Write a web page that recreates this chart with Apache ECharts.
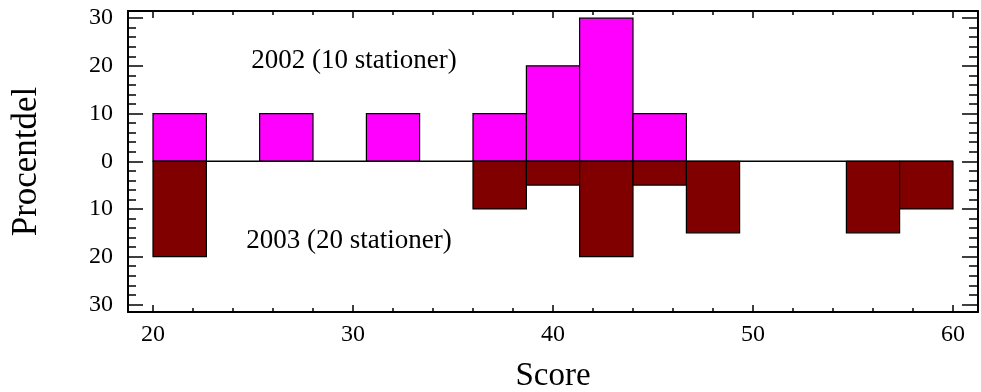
<!DOCTYPE html>
<html>
<head>
<meta charset="utf-8">
<script src="https://cdn.jsdelivr.net/npm/echarts@6.0.0/dist/echarts.min.js"></script>
<style>
  html, body { margin: 0; padding: 0; background: #fff; }
  #chart { width: 981px; height: 392px; }
</style>
</head>
<body>
<div id="chart"></div>
<script>
// bin edges (Score), 15 bins from 20 to 60
var binEdges = [20, 22.67, 25.33, 28, 30.67, 33.33, 36, 38.67, 41.33, 44, 46.67, 49.33, 52, 54.67, 57.33, 60];
// percent of stations per bin
var pct2002 = [10, 0, 10, 0, 10, 0, 10, 20, 30, 10, 0, 0, 0, 0, 0];
var pct2003 = [20, 0, 0, 0, 0, 0, 10, 5, 20, 5, 15, 0, 0, 15, 10];
var xMajor = [20, 30, 40, 50, 60];
var xMinor = [22, 24, 26, 28, 32, 34, 36, 38, 42, 44, 46, 48, 52, 54, 56, 58];
var yMajor = [-30, -20, -10, 0, 10, 20, 30];
var yMinor = [-28, -26, -24, -22, -18, -16, -14, -12, -8, -6, -4, -2, 2, 4, 6, 8, 12, 14, 16, 18, 22, 24, 26, 28];
var labels = ['2002 (10 stationer)', '2003 (20 stationer)'];

var FONT = 'Liberation Serif';

function bars(values, sign) {
    var out = [];
    for (var i = 0; i < values.length; i++) {
        if (values[i] === 0) continue;
        out.push([binEdges[i], binEdges[i + 1], sign * values[i]]);
    }
    return out;
}

function renderBar(params, api) {
    var p0 = api.coord([api.value(0), 0]);
    var p1 = api.coord([api.value(1), api.value(2)]);
    return {
        type: 'rect',
        shape: {
            x: p0[0], y: Math.min(p0[1], p1[1]),
            width: p1[0] - p0[0], height: Math.abs(p1[1] - p0[1])
        },
        style: api.style({ stroke: '#000', lineWidth: 1.2 })
    };
}

var lineStyle = { color: '#000', width: 2 };

function xAx(pos, ticks, len, showLine, showLabel) {
    return {
        type: 'value', position: pos, min: 18.75, max: 61.25,
        axisLine: { show: showLine, onZero: false, lineStyle: lineStyle },
        axisTick: { inside: true, length: len, customValues: ticks, lineStyle: { color: '#000', width: 1.5 } },
        axisLabel: { show: showLabel, customValues: xMajor, margin: 11,
            fontFamily: FONT, fontSize: 24, color: '#000' },
        splitLine: { show: false },
        name: showLabel ? 'Score' : '', nameLocation: 'middle', nameGap: 48,
        nameTextStyle: { fontFamily: FONT, fontSize: 33, color: '#000' }
    };
}

function yAx(pos, ticks, len, showLine, showLabel) {
    return {
        type: 'value', position: pos, min: -31.6, max: 31.5,
        axisLine: { show: showLine, onZero: false, lineStyle: lineStyle },
        axisTick: { inside: true, length: len, customValues: ticks, lineStyle: { color: '#000', width: 1.5 } },
        axisLabel: { show: showLabel, customValues: yMajor, margin: 15,
            fontFamily: FONT, fontSize: 24, color: '#000',
            formatter: function (v) { return Math.abs(v); } },
        splitLine: { show: false },
        name: showLabel ? 'Procentdel' : '', nameLocation: 'middle', nameGap: 84, nameRotate: 90,
        nameTextStyle: { fontFamily: FONT, fontSize: 35, color: '#000' }
    };
}

var myChart = echarts.init(document.getElementById('chart'));

var option = {
    backgroundColor: '#FFFFFF',
    animation: false,
    grid: { left: 128, right: 3, top: 11, bottom: 80, containLabel: false, outerBoundsMode: 'none' },
    xAxis: [
        xAx('bottom', xMajor, 7, true, true),
        xAx('bottom', xMinor, 4, false, false),
        xAx('top', xMajor, 7, true, false),
        xAx('top', xMinor, 4, false, false)
    ],
    yAxis: [
        yAx('left', yMajor, 15, true, true),
        yAx('left', yMinor, 8, false, false),
        yAx('right', yMajor, 16, true, false),
        yAx('right', yMinor, 9, false, false)
    ],
    series: [
        {
            name: '2002', type: 'custom', renderItem: renderBar,
            itemStyle: { color: '#FF00FF' },
            encode: { x: [0, 1], y: 2 },
            data: bars(pct2002, 1)
        },
        {
            name: '2003', type: 'custom', renderItem: renderBar,
            itemStyle: { color: '#800000' },
            encode: { x: [0, 1], y: 2 },
            data: bars(pct2003, -1)
        },
        {
            type: 'line', symbol: 'none', silent: true, z: 3,
            lineStyle: { color: '#000', width: 1.5 },
            data: [[binEdges[0], 0], [binEdges[binEdges.length - 1], 0]]
        }
    ],
    graphic: [
        { type: 'text', x: 354, y: 61, silent: true,
          style: { text: labels[0], fontFamily: FONT, fontSize: 27, fill: '#000',
                   textAlign: 'center', textVerticalAlign: 'middle' } },
        { type: 'text', x: 349, y: 241, silent: true,
          style: { text: labels[1], fontFamily: FONT, fontSize: 27, fill: '#000',
                   textAlign: 'center', textVerticalAlign: 'middle' } }
    ]
};

myChart.setOption(option);
</script>
</body>
</html>
